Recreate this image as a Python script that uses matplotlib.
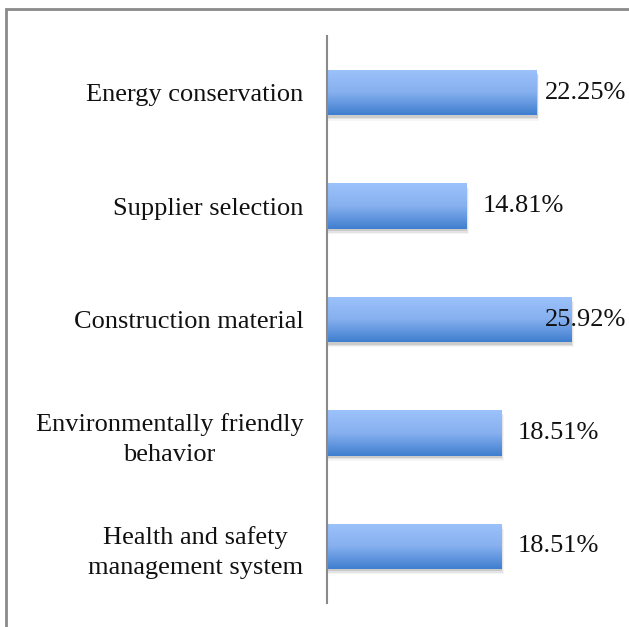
import numpy as np
import matplotlib.pyplot as plt
from matplotlib.patches import Rectangle
from matplotlib.colors import LinearSegmentedColormap

# ---- data ----
categories = ["Energy conservation", "Supplier selection", "Construction material",
              "Environmentally friendly\nbehavior", "Health and safety\nmanagement system"]
values = [22.25, 14.81, 25.92, 18.51, 18.51]
value_labels = ["22.25%", "14.81%", "25.92%", "18.51%", "18.51%"]

plt.rcParams['font.family'] = ['Liberation Serif', 'DejaVu Serif']

W, H = 629, 627
fig = plt.figure(figsize=(W / 100, H / 100), dpi=100)

# outer frame (right and bottom edges run off the picture)
fig.patches.append(Rectangle((5.5 / W, -0.05), 1.2, 1 - 9 / H + 0.05,
                             transform=fig.transFigure, fill=False,
                             edgecolor="#8a8a8a", linewidth=2.0))

ax = fig.add_axes([327 / W, 1 - 603 / H, 283 / W, 567 / H])
ax.set_xlim(0, 30)
ax.set_ylim(len(categories) - 0.5, -0.5)

grad = LinearSegmentedColormap.from_list("g", ["#9cc2fa", "#86b0ef", "#3f7ecf"])
img = np.linspace(0, 1, 100).reshape(-1, 1)
bh = 0.4

texts = []
for i, v in enumerate(values):
    # soft shadow
    for k, a in enumerate([0.10, 0.07, 0.04]):
        d = 0.012 * (k + 1)
        ax.add_patch(Rectangle((0, i - bh / 2 + d + 0.01), v + 0.08 * (k + 1), bh,
                               facecolor="#000000", alpha=a, edgecolor="none", zorder=1))
    bar = ax.barh(i, v, height=bh, color="none", edgecolor="none", zorder=2)[0]
    im = ax.imshow(img, cmap=grad, aspect="auto", extent=(0, v, i + bh / 2, i - bh / 2),
                   zorder=2, interpolation="bicubic")
    im.set_clip_path(bar)
    t = ax.text(v + 1.7, i, value_labels[i], va="center", ha="left", fontsize=19,
                color="#111111", zorder=3)
    texts.append(t)

ax.set_xlim(0, 30)
ax.set_ylim(len(categories) - 0.5, -0.5)
ax.set_yticks(range(len(categories)))
ax.set_yticklabels(categories, fontsize=19, color="#111111", multialignment="center",
                   linespacing=1.45)
ax.tick_params(axis="y", length=0, pad=17)
ax.set_xticks([])
for s in ["top", "right", "bottom"]:
    ax.spines[s].set_visible(False)
ax.spines["left"].set_color("#8a8a8a")
ax.spines["left"].set_linewidth(1.5)
ax.patch.set_alpha(0)

# keep value labels inside the frame, like the original chart does
fig.canvas.draw()
r = fig.canvas.get_renderer()
for t in texts:
    bb = t.get_window_extent(r)
    limit = W - 3
    if bb.x1 > limit:
        x_disp = ax.transData.transform((t.get_position()[0], 0))[0] - (bb.x1 - limit)
        t.set_x(ax.transData.inverted().transform((x_disp, 0))[0])

fig.savefig("out.png", dpi=100)
